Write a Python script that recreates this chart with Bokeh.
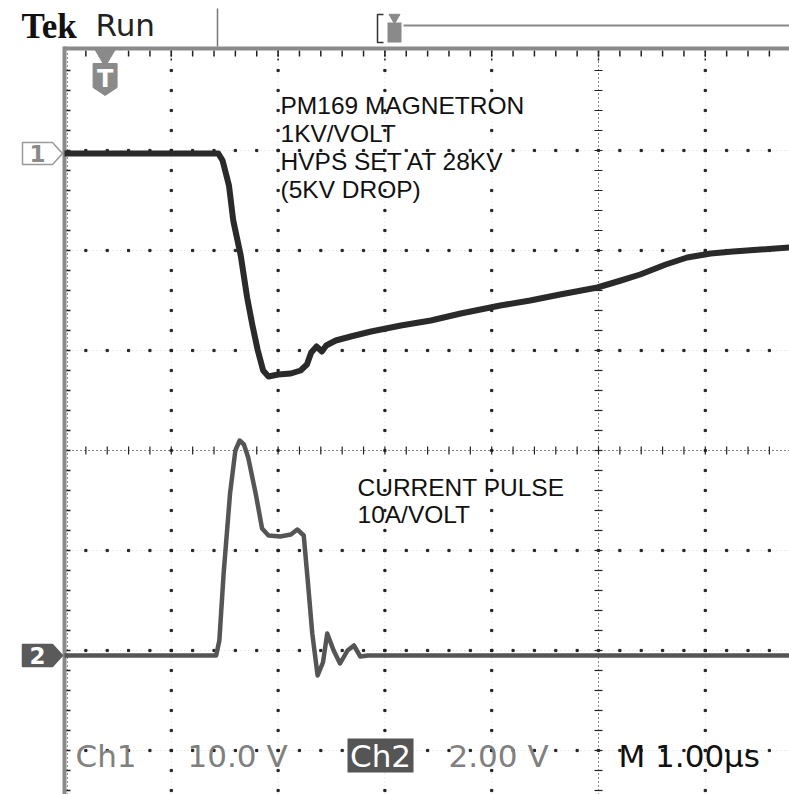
import numpy as np
from bokeh.plotting import figure
from bokeh.models import Range1d
from bokeh.core.properties import value
from bokeh.embed import file_html
from bokeh.resources import INLINE

# ---------------- data ----------------
ch1_time_us = [0.00, 1.44, 1.48, 1.54, 1.58, 1.65, 1.71, 1.76, 1.81, 1.86, 1.91, 2.00,
               2.12, 2.21, 2.27, 2.31, 2.36, 2.41, 2.45, 2.54, 2.68, 2.87, 3.15, 3.43,
               3.71, 4.08, 4.36, 4.64, 4.99, 5.21, 5.39, 5.63, 5.83, 6.05, 6.26, 6.52, 6.79]
ch1_volts = [0.0, 0.0, -0.7, -3.2, -6.7, -10.2, -14.4, -17.2, -19.7, -21.7, -22.3, -22.1,
             -22.0, -21.7, -21.1, -19.9, -19.3, -19.8, -19.2, -18.7, -18.3, -17.8, -17.2, -16.7,
             -16.0, -15.2, -14.7, -14.1, -13.4, -12.7, -12.1, -11.1, -10.4, -10.0, -9.8, -9.6, -9.4]

ch2_time_us = [0.00, 1.42, 1.45, 1.49, 1.55, 1.60, 1.64, 1.68, 1.72, 1.79, 1.85, 1.91,
               2.02, 2.12, 2.18, 2.24, 2.28, 2.32, 2.37, 2.42, 2.46, 2.52, 2.58, 2.65,
               2.71, 2.77, 2.84, 6.79]
ch2_volts = [0.0, 0.0, 0.30, 1.64, 3.24, 4.10, 4.30, 4.22, 3.96, 3.24, 2.54, 2.40,
             2.38, 2.42, 2.52, 2.40, 1.44, 0.44, -0.40, -0.14, 0.44, 0.10, -0.16, 0.10,
             0.20, -0.02, 0.0, 0.0]

ch1_volts_per_div = 10.0
ch2_volts_per_div = 2.0
ch1_ground_div = 2.97
ch2_ground_div = -2.05
trigger_time_us = 0.38

note_ch1 = ["PM169 MAGNETRON", "1KV/VOLT", "HVPS SET AT 28KV", "(5KV DROP)"]
note_ch2 = ["CURRENT PULSE", "10A/VOLT"]
readout = ["Ch1", "10.0 V", "Ch2", "2.00 V", "M 1.00\u00b5s"]

# ---------------- geometry helpers ----------------
PX_X = 106.8   # pixels per microsecond (division)
PX_Y = 100.0   # pixels per vertical division
def dx(px):
    return px / PX_X
def dy(px):
    return px / PX_Y

X0, X1 = -64 / PX_X, (789 - 64) / PX_X
Y0, Y1 = -344 / PX_Y, 450 / PX_Y

p = figure(width=789, height=794, output_backend="svg", toolbar_location=None,
           x_range=Range1d(X0, X1), y_range=Range1d(Y0, Y1),
           x_axis_type=None, y_axis_type=None, min_border=0,
           background_fill_color="white", border_fill_color="white")
p.outline_line_color = None
p.xgrid.visible = False
p.ygrid.visible = False

TOP = 4.0
# ---------------- graticule ----------------
for t in range(1, 7):
    p.line([t, t], [Y0, TOP], line_color="#d8d8d8", line_dash="1 3", line_width=1)
for v in range(-3, 4):
    p.line([0, X1], [v, v], line_color="#d8d8d8", line_dash="1 3", line_width=1)

gx, gy = [], []
ys = np.arange(-4.0, TOP + 0.001, 0.2)
for t in range(1, 7):
    if t == 5:
        continue
    for yv in ys:
        if Y0 < yv < TOP:
            gx.append(t); gy.append(yv)
xs = np.arange(0.0, X1 + 0.001, 0.2)
for v in range(-3, 4):
    if v == 0:
        continue
    for xv in xs:
        if 0 < xv < X1:
            gx.append(xv); gy.append(v)
p.scatter(gx, gy, marker="square", size=2.2, color="#222222")

p.line([0, X1], [0, 0], line_color="#222222", line_dash="1 3", line_width=1)
p.line([5, 5], [Y0, TOP], line_color="#222222", line_dash="1 3", line_width=1)
tx = [xv for xv in xs if 0 < xv < X1]
p.segment(x0=tx, y0=[-dy(4)] * len(tx), x1=tx, y1=[dy(4)] * len(tx), line_color="#222222", line_width=1.2)
ty = [yv for yv in ys if Y0 < yv < TOP]
p.segment(x0=[5 - dx(4)] * len(ty), y0=ty, x1=[5 + dx(4)] * len(ty), y1=ty, line_color="#222222", line_width=1.2)

p.segment(x0=tx, y0=[TOP] * len(tx), x1=tx, y1=[TOP - dy(6)] * len(tx), line_color="#222222", line_width=1.5)
mx = list(range(1, 7))
p.segment(x0=mx, y0=[TOP] * len(mx), x1=mx, y1=[TOP - dy(12)] * len(mx), line_color="#222222", line_width=1.5, line_dash="2 2")
p.segment(x0=[0] * len(ty), y0=ty, x1=[dx(6)] * len(ty), y1=ty, line_color="#222222", line_width=1.5)
p.line([dx(3), dx(3)], [Y0, TOP], line_color="#222222", line_dash="1 3", line_width=1)

p.line([0, X1], [TOP + dy(2), TOP + dy(2)], line_color="#8a8a8a", line_width=4)
p.line([0, 0], [Y0, TOP + dy(4)], line_color="#8a8a8a", line_width=4)

# ---------------- traces ----------------
ch1_div = [ch1_ground_div + v / ch1_volts_per_div for v in ch1_volts]
ch2_div = [ch2_ground_div + v / ch2_volts_per_div for v in ch2_volts]
p.line(ch2_time_us, ch2_div, line_color="#555555", line_width=4.5, line_join="round")
p.line(ch1_time_us, ch1_div, line_color="#2a2a2a", line_width=6, line_join="round")

# ---------------- channel markers ----------------
def pent(yc):
    return ([dx(-42), dx(-12), dx(-2), dx(-12), dx(-42)],
            [yc + dy(11), yc + dy(11), yc, yc - dy(11), yc - dy(11)])
px1, py1 = pent(ch1_ground_div)
p.patch(px1, py1, fill_color="white", line_color="#9a9a9a", line_width=1.5)
p.text([dx(-27)], [ch1_ground_div], text=["1"], text_align="center", text_baseline="middle",
       text_font=value("DejaVu Sans"), text_font_size="23px", text_font_style="bold", text_color="#8a8a8a")
px2, py2 = pent(ch2_ground_div)
p.patch(px2, py2, fill_color="#5a5a5a", line_color="#5a5a5a", line_width=1.5)
p.text([dx(-27)], [ch2_ground_div], text=["2"], text_align="center", text_baseline="middle",
       text_font=value("DejaVu Sans"), text_font_size="23px", text_font_style="bold", text_color="white")

# trigger marker on graticule
p.scatter([trigger_time_us], [TOP - dy(5)], marker="inverted_triangle", size=20, color="#8a8a8a")
sx = [trigger_time_us - dx(12), trigger_time_us + dx(12), trigger_time_us + dx(12),
      trigger_time_us, trigger_time_us - dx(12)]
sy = [TOP - dy(13), TOP - dy(13), TOP - dy(37), TOP - dy(45), TOP - dy(37)]
p.patch(sx, sy, fill_color="#8a8a8a", line_color="#8a8a8a")
p.text([trigger_time_us], [TOP - dy(28)], text=["T"], text_align="center", text_baseline="middle",
       text_font=value("DejaVu Sans"), text_font_size="24px", text_font_style="bold", text_color="white")

# ---------------- header ----------------
p.text([dx(-43)], [TOP + dy(24)], text=["Tek"], text_align="left", text_baseline="middle",
       text_font=value("Liberation Serif"), text_font_size="35px", text_font_style="bold", text_color="#111111")
p.text([dx(31)], [TOP + dy(26)], text=["Run"], text_align="left", text_baseline="middle",
       text_font=value("DejaVu Sans"), text_font_size="31px", text_color="#222222")
p.line([dx(153), dx(153)], [TOP + dy(4), TOP + dy(42)], line_color="#777777", line_width=1.5)
bx = dx(313)
p.line([bx + dx(6), bx, bx, bx + dx(6)], [TOP + dy(36), TOP + dy(36), TOP + dy(8), TOP + dy(8)],
       line_color="#333333", line_width=1.5)
p.scatter([bx + dx(17)], [TOP + dy(33)], marker="inverted_triangle", size=11, color="#8a8a8a")
p.rect([bx + dx(17)], [TOP + dy(18)], width=dx(14), height=dy(20), fill_color="#8a8a8a", line_color=None)
p.line([bx + dx(26), X1], [TOP + dy(25), TOP + dy(25)], line_color="#888888", line_width=2)

# ---------------- annotations ----------------
for i, s in enumerate(note_ch1):
    p.text([dx(216)], [dy(345) - dy(28) * i], text=[s], text_align="left", text_baseline="middle",
           text_font=value("Liberation Sans"), text_font_size="24.5px", text_color="#111111")
for i, s in enumerate(note_ch2):
    p.text([dx(293)], [dy(-37) - dy(27) * i], text=[s], text_align="left", text_baseline="middle",
           text_font=value("Liberation Sans"), text_font_size="24.5px", text_color="#111111")

# ---------------- readout ----------------
ry = dy(-305)
p.rect([dx(316)], [ry], width=dx(66), height=dy(34), fill_color="#555555", line_color=None)
rx = [dx(11), dx(123), dx(316), dx(384), dx(554)]
rc = ["#808080", "#808080", "white", "#808080", "#111111"]
ra = ["left", "left", "center", "left", "left"]
for x, s, c, a in zip(rx, readout, rc, ra):
    p.text([x], [ry], text=[s], text_align=a, text_baseline="middle",
           text_font=value("DejaVu Sans"), text_font_size="31px", text_color=c)

open("out.html", "w").write(file_html(p, INLINE))
